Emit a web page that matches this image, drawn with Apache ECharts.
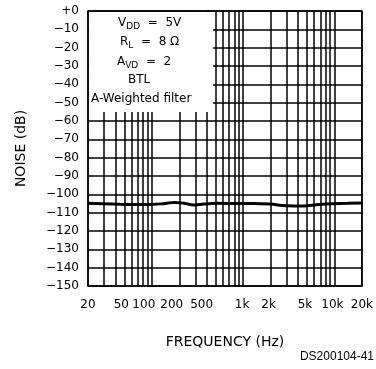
<!DOCTYPE html>
<html><head><meta charset="utf-8">
<script src="https://cdn.jsdelivr.net/npm/echarts@6/dist/echarts.min.js"></script>
<style>html,body{margin:0;padding:0;background:#fff}#c{width:376px;height:369px}</style>
</head><body><div id="c"></div>
<script>
const freqs = [20, 30, 45, 65, 100, 140, 176, 226, 292, 375, 520, 800, 1270, 1950, 2990, 4470, 6860, 9270, 14000, 20000];
const noise = [-104.9, -105.1, -105.4, -105.6, -105.5, -105.0, -104.4, -104.9, -105.8, -105.3, -104.9, -105.0, -105.0, -105.3, -106.2, -106.3, -105.5, -105.1, -104.9, -104.7];
const gridFreqs = [20,30,40,50,60,70,80,90,100,200,300,400,500,600,700,800,900,1000,2000,3000,4000,5000,6000,7000,8000,9000,10000,20000];
const xTickValues = [20,50,100,200,500,1000,2000,5000,10000,20000];
const xTickLabels = ['20','50','100','200','500','1k','2k','5k','10k','20k'];
const yTickValues = [0,-10,-20,-30,-40,-50,-60,-70,-80,-90,-100,-110,-120,-130,-140,-150];
const yTickLabels = ['+0','\u221210','\u221220','\u221230','\u221240','\u221250','\u221260','\u221270','\u221280','\u221290','\u2212100','\u2212110','\u2212120','\u2212130','\u2212140','\u2212150'];
const boxLines = ['{t|V}{s|DD}{t|  =  5V}', '{t|R}{s|L}{t|  =  8 \u03a9}', '{t|A}{s|VD}{t|  =  2}', '{t|BTL}', '{t|A-Weighted filter}'];

// layout only: leftward nudge (px) of each x tick label as placed in the original figure
const xLabelNudge = [0, 3, 8, 7.5, 14, 1, 2, 2, 2, 0];
const F = 'DejaVu Sans';
const chart = echarts.init(document.getElementById('c'), null, {renderer:'canvas'});
const rich = {t:{fontFamily:F,fontSize:12,color:'#000'}, s:{fontFamily:F,fontSize:9,color:'#000',padding:[7,0,0,0]}};
const xRich = {};
xLabelNudge.forEach((n,i)=>{ xRich['l'+i] = {fontFamily:F,fontSize:12,color:'#000',padding:[0,2*n,0,0]}; });
const boxPos = [[118,23],[120,42],[117,62],[128,80],[91,99]];
chart.setOption({
  animation:false,
  backgroundColor:'#fff',
  grid:{left:88,right:13,top:11,bottom:83,show:true,borderColor:'#000',borderWidth:1.5},
  xAxis:{type:'log',logBase:10,min:20,max:20000,
    name:'FREQUENCY (Hz)',nameLocation:'middle',nameGap:49,
    nameTextStyle:{fontFamily:F,fontSize:14,color:'#000'},
    axisLine:{show:false},
    axisTick:{show:false,customValues:gridFreqs},
    splitLine:{show:true,lineStyle:{color:'#000',width:1.5}},
    axisLabel:{customValues:xTickValues,fontFamily:F,fontSize:12,color:'#000',margin:13,rich:xRich,
      formatter:function(v){const i=xTickValues.indexOf(v);return i>=0?('{l'+i+'|'+xTickLabels[i]+'}'):'';}}
  },
  yAxis:{type:'value',min:-150,max:0,interval:10,
    name:'NOISE (dB)',nameLocation:'middle',nameGap:60,
    nameTextStyle:{fontFamily:F,fontSize:14,color:'#000'},
    axisLine:{show:false},axisTick:{show:false},
    splitLine:{show:true,lineStyle:{color:'#000',width:1.5}},
    axisLabel:{fontFamily:F,fontSize:12,color:'#000',margin:9,
      formatter:function(v){const i=yTickValues.indexOf(v);return i>=0?yTickLabels[i]:'';}}
  },
  series:[{type:'line',data:freqs.map((f,i)=>[f,noise[i]]),smooth:true,showSymbol:false,
    lineStyle:{color:'#000',width:3}}],
  graphic:[
    {type:'rect',shape:{x:89,y:12,width:124,height:100},style:{fill:'#fff'},z:10},
    ...boxLines.map((t,i)=>({type:'text',x:boxPos[i][0],y:boxPos[i][1],z:11,
      style:{text:t,rich:rich,align:'left',verticalAlign:'middle'}})),
    {type:'text',right:2,top:351,z:11,style:{text:'DS200104-41',fontFamily:'Liberation Sans',fontSize:12,fill:'#000'}}
  ]
});
</script></body></html>
